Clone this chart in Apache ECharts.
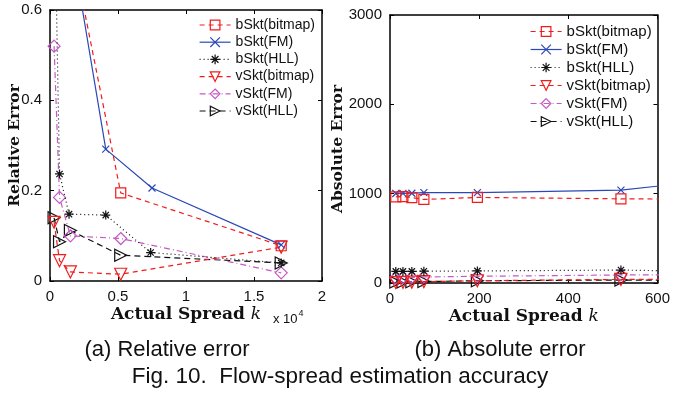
<!DOCTYPE html>
<html>
<head>
<meta charset="utf-8">
<script src="https://cdn.jsdelivr.net/npm/echarts@6/dist/echarts.min.js"></script>
<style>
  html, body { margin: 0; padding: 0; background: #fff; }
  #chart { width: 673px; height: 396px; }
</style>
</head>
<body>
<div id="chart"></div>
<script>
// (a) relative error, x in units of 10^4
const aBBitmapX = [0.03, 0.07, 0.15, 0.52, 1.70]
const aBBitmapY = [2.0, 1.2, 0.754, 0.195, 0.078]
const aBFmX = [0.03, 0.07, 0.15, 0.41, 0.75, 1.70]
const aBFmY = [2.5, 1.3, 0.76, 0.292, 0.206, 0.08]
const aBHllX = [0.03, 0.07, 0.14, 0.41, 0.74, 1.70]
const aBHllY = [0.9, 0.237, 0.148, 0.146, 0.063, 0.04]
const aVBitmapX = [0.03, 0.07, 0.15, 0.52, 1.70]
const aVBitmapY = [0.13, 0.045, 0.02, 0.015, 0.075]
const aVFmX = [0.03, 0.07, 0.15, 0.52, 1.70]
const aVFmY = [0.52, 0.185, 0.10, 0.094, 0.018]
const aVHllX = [0.03, 0.07, 0.15, 0.52, 1.70]
const aVHllY = [0.14, 0.087, 0.112, 0.057, 0.04]

// (b) absolute error
const bX = [13, 29, 49, 76, 196, 518, 700]
const bBBitmapY = [965, 968, 955, 935, 958, 942, 938]
const bBFmY = [1002, 1003, 1005, 1012, 1012, 1040, 1138]
const bBHllY = [130, 130, 130, 132, 135, 145, 130]
const bVBitmapY = [5, 8, 10, 15, 25, 40, 42]
const bVFmY = [55, 60, 62, 68, 75, 90, 92]
const bVHllY = [10, 12, 14, 16, 25, 33, 33]

const names = ['bSkt(bitmap)', 'bSkt(FM)', 'bSkt(HLL)', 'vSkt(bitmap)', 'vSkt(FM)', 'vSkt(HLL)']

const sans = 'Liberation Sans, Arial, sans-serif'
const serif = 'DejaVu Serif, serif'
const RED = '#f01c1c'
const BLUE = '#2a48b8'
const MAG = '#c45ac4'
const BLK = '#111'
const CLEAR = 'rgba(255,255,255,0)'

const xMark = 'path://M0,0L10,10M10,0L0,10'
const starMark = 'path://M5,0L5,10M0,5L10,5M1.5,1.5L8.5,8.5M8.5,1.5L1.5,8.5'

// 线型和标记
const styles = [
  { color: RED, type: [5, 4], symbol: 'rect', size: 10, rotate: 0 },
  { color: BLUE, type: 'solid', symbol: xMark, size: 7, rotate: 0 },
  { color: BLK, type: [1, 3], symbol: starMark, size: 9, rotate: 0 },
  { color: RED, type: [5, 4], symbol: 'triangle', size: 12, rotate: 180 },
  { color: MAG, type: [6, 3, 1, 3], symbol: 'diamond', size: 12, rotate: 0 },
  { color: BLK, type: [6, 4], symbol: 'triangle', size: 12, rotate: -90 }
]

function pairs(xs, ys) {
  return xs.map((x, i) => [x, ys[i]])
}

function makeSeries(idx, data, gi) {
  const s = styles[idx]
  return {
    name: names[idx],
    type: 'line',
    xAxisIndex: gi * 2,
    yAxisIndex: gi * 2,
    data: data,
    clip: true,
    symbol: s.symbol,
    symbolSize: s.size,
    symbolRotate: s.rotate,
    showAllSymbol: true,
    lineStyle: { color: s.color, width: 1.2, type: s.type },
    itemStyle: { color: CLEAR, borderColor: s.color, borderWidth: 1.2 },
    emphasis: { disabled: true },
    z: 10 - idx
  }
}

function axisBase(min, max, interval, showLabel) {
  return {
    type: 'value',
    min: min,
    max: max,
    interval: interval,
    nameMoveOverlap: false,
    axisLine: { show: true, onZero: false, lineStyle: { color: '#000', width: 1.5 } },
    axisTick: { show: true, inside: true, length: 4, lineStyle: { color: '#000', width: 1 } },
    axisLabel: { show: showLabel, color: '#111', fontSize: 15, fontFamily: sans, formatter: v => String(v) },
    splitLine: { show: false }
  }
}

function legendFor(left, top, fontSize, gap) {
  return {
    show: true,
    orient: 'vertical',
    left: left,
    top: top,
    padding: 0,
    itemWidth: 31,
    itemHeight: 12,
    itemGap: gap,
    selectedMode: false,
    data: names.map((n, i) => ({
      name: n,
      itemStyle: { color: CLEAR, borderColor: styles[i].color, borderWidth: 1.2 },
      lineStyle: { color: styles[i].color, width: 1.2, type: styles[i].type }
    })),
    textStyle: { color: '#111', fontSize: fontSize, fontFamily: sans, lineHeight: fontSize }
  }
}

const xName = {
  nameLocation: 'middle',
  nameGap: 25,
  nameTextStyle: {
    rich: {
      a: { fontFamily: serif, fontWeight: 'bold', fontSize: 17, color: '#111' },
      k: { fontFamily: serif, fontStyle: 'italic', fontSize: 17, color: '#111' }
    }
  }
}

const yNameStyle = { fontFamily: serif, fontWeight: 'bold', fontSize: 15.5, color: '#111' }

const chart = echarts.init(document.getElementById('chart'), null, { renderer: 'canvas' })

const series = [
  makeSeries(0, pairs(aBBitmapX, aBBitmapY), 0),
  makeSeries(1, pairs(aBFmX, aBFmY), 0),
  makeSeries(2, pairs(aBHllX, aBHllY), 0),
  makeSeries(3, pairs(aVBitmapX, aVBitmapY), 0),
  makeSeries(4, pairs(aVFmX, aVFmY), 0),
  makeSeries(5, pairs(aVHllX, aVHllY), 0),
  makeSeries(0, pairs(bX, bBBitmapY), 1),
  makeSeries(1, pairs(bX, bBFmY), 1),
  makeSeries(2, pairs(bX, bBHllY), 1),
  makeSeries(3, pairs(bX, bVBitmapY), 1),
  makeSeries(4, pairs(bX, bVFmY), 1),
  makeSeries(5, pairs(bX, bVHllY), 1)
]

chart.setOption({
  animation: false,
  backgroundColor: '#fff',
  grid: [
    { left: 50, top: 10, width: 272, height: 271 },
    { left: 390, top: 15, width: 270, height: 268 }
  ],
  legend: [
    legendFor(199, 18, 14, 3.2),
    legendFor(530, 24, 15, 3)
  ],
  xAxis: [
    Object.assign(axisBase(0, 2, 0.5, true), xName, { gridIndex: 0, position: 'bottom', name: '{a|Actual Spread }{k|k}' }),
    Object.assign(axisBase(0, 2, 0.5, false), { gridIndex: 0, position: 'top' }),
    Object.assign(axisBase(0, 600, 200, true), xName, { gridIndex: 1, position: 'bottom', name: '{a|Actual Spread }{k|k}' }),
    Object.assign(axisBase(0, 600, 200, false), { gridIndex: 1, position: 'top' })
  ],
  yAxis: [
    Object.assign(axisBase(0, 0.6, 0.2, true), {
      gridIndex: 0, position: 'left', name: 'Relative Error', nameLocation: 'middle', nameGap: 27,
      nameTextStyle: yNameStyle
    }),
    Object.assign(axisBase(0, 0.6, 0.2, false), { gridIndex: 0, position: 'right' }),
    Object.assign(axisBase(0, 3000, 1000, true), {
      gridIndex: 1, position: 'left', name: 'Absolute Error', nameLocation: 'middle', nameGap: 44,
      nameTextStyle: yNameStyle
    }),
    Object.assign(axisBase(0, 3000, 1000, false), { gridIndex: 1, position: 'right' })
  ],
  graphic: [
    {
      type: 'text', left: 273, top: 309,
      style: {
        text: '{a|x 10}{s|4}',
        rich: {
          a: { fontFamily: sans, fontSize: 13, fill: '#111', padding: [6, 0, 0, 0] },
          s: { fontFamily: sans, fontSize: 9, fill: '#111', padding: [0, 0, 6, 1] }
        }
      }
    },
    {
      type: 'text', x: 167, y: 350,
      style: { text: '(a) Relative error', fontFamily: sans, fontSize: 22, fill: '#111', align: 'center', verticalAlign: 'middle' }
    },
    {
      type: 'text', x: 500, y: 350,
      style: { text: '(b) Absolute error', fontFamily: sans, fontSize: 22, fill: '#111', align: 'center', verticalAlign: 'middle' }
    },
    {
      type: 'text', x: 340, y: 377,
      style: { text: 'Fig. 10.  Flow-spread estimation accuracy', fontFamily: sans, fontSize: 22.5, fill: '#111', align: 'center', verticalAlign: 'middle' }
    }
  ],
  series: series
})
</script>
</body>
</html>
